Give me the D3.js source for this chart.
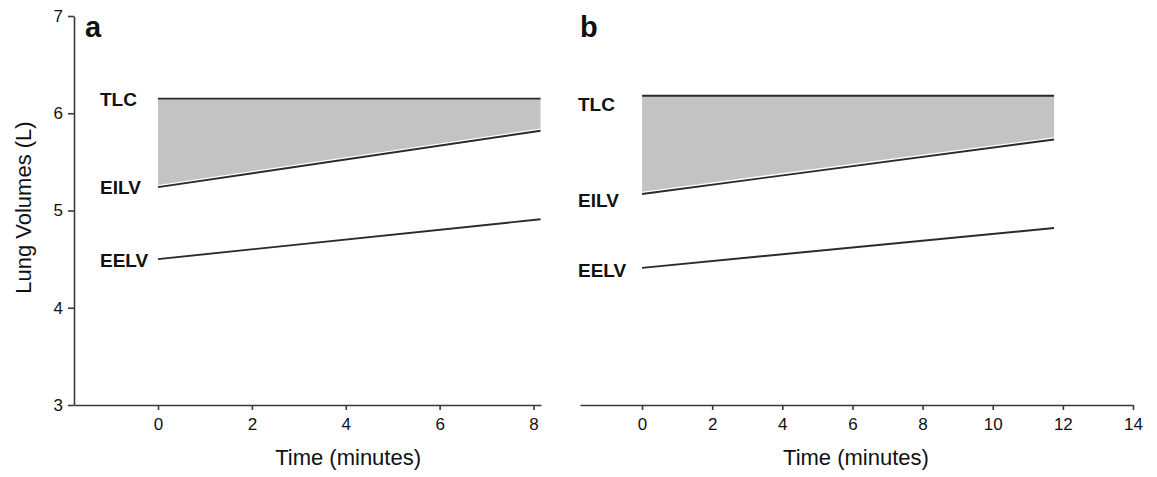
<!DOCTYPE html>
<html>
<head>
<meta charset="utf-8">
<script src="https://cdn.jsdelivr.net/npm/d3@7"></script>
<style>
	body { margin: 0; background: #fff; }
	svg { display: block; font-family: 'Liberation Sans', Arial, sans-serif; }
	.axis path, .axis line { stroke: #3a3a3a; stroke-width: 1.6px; }
</style>
</head>
<body>
<svg id="chart" width="1157" height="477"></svg>
<script>
// values (litres vs minutes)
const volumeTicks = [3, 4, 5, 6, 7];
const timeTicksA = [0, 2, 4, 6, 8];
const timeTicksB = [0, 2, 4, 6, 8, 10, 12, 14];

const timeA = [0, 8.15];
const tlcA = [6.15, 6.15];
const eilvA = [5.24, 5.82];
const eelvA = [4.5, 4.91];

const timeB = [0, 11.75];
const tlcB = [6.18, 6.18];
const eilvB = [5.17, 5.73];
const eelvB = [4.41, 4.82];

const lineNames = ['TLC', 'EILV', 'EELV'];

const TOP = 16;
const BASE = 405;
const FONT = "'Liberation Sans', Arial, sans-serif";

const $svg = d3.select('#chart');

const y = d3.scaleLinear().domain([3, 7]).range([BASE, TOP]);

const panels = [
	{
		letter: 'a', time: timeA, tlc: tlcA, eilv: eilvA, eelv: eelvA,
		ticks: timeTicksA, domain: [-1.79, 8.16], range: [74, 541],
		labelX: 100, labelDy: [0, 0, 1], titleAt: 4.05, letterX: 85, yAxis: true
	},
	{
		letter: 'b', time: timeB, tlc: tlcB, eilv: eilvB, eelv: eelvB,
		ticks: timeTicksB, domain: [-1.77, 14], range: [580, 1133],
		labelX: 578, labelDy: [8, 6, 2], titleAt: 6.1, letterX: 580, yAxis: false
	}
];

function styleAxis($axis) {
	$axis.attr('font-size', 17).attr('font-family', FONT);
	$axis.selectAll('text').attr('fill', '#111').attr('font-size', 17);
}

function drawPanel(p) {
	const x = d3.scaleLinear().domain(p.domain).range(p.range);
	const $g = $svg.append('g').attr('class', `panel panel-${p.letter}`);

	const rows = p.time.map((t, i) => ({ t, tlc: p.tlc[i], eilv: p.eilv[i], eelv: p.eelv[i] }));

	// shaded inspiratory reserve
	const area = d3.area()
		.x(d => x(d.t))
		.y0(d => y(d.eilv))
		.y1(d => y(d.tlc));
	$g.append('path')
		.datum(rows)
		.attr('d', area)
		.attr('fill', '#c3c3c3');

	const line = key => d3.line().x(d => x(d.t)).y(d => y(d[key]));

	// thin white edge along EILV inside the fill
	$g.append('path')
		.datum(rows)
		.attr('d', line('eilv'))
		.attr('fill', 'none')
		.attr('stroke', '#fff')
		.attr('stroke-width', 4.5);

	['tlc', 'eilv', 'eelv'].forEach(key => {
		$g.append('path')
			.datum(rows)
			.attr('d', line(key))
			.attr('fill', 'none')
			.attr('stroke', '#2a2a2a')
			.attr('stroke-width', 1.9);
	});

	// line labels
	const starts = [p.tlc[0], p.eilv[0], p.eelv[0]];
	$g.selectAll('.line-label')
		.data(lineNames)
		.enter()
		.append('text')
		.attr('class', 'line-label')
		.attr('x', p.labelX)
		.attr('y', (d, i) => y(starts[i]) + p.labelDy[i])
		.attr('dy', '0.36em')
		.attr('font-size', 19)
		.attr('font-weight', 'bold')
		.attr('fill', '#111')
		.text(d => d);

	// x axis
	const xAxis = d3.axisBottom(x)
		.tickValues(p.ticks)
		.tickFormat(d3.format('d'))
		.tickSize(5)
		.tickPadding(8)
		.tickSizeOuter(0);
	$g.append('g')
		.attr('class', 'axis x-axis')
		.attr('transform', `translate(0,${BASE})`)
		.call(xAxis)
		.call(styleAxis);

	$g.append('text')
		.attr('x', x(p.titleAt))
		.attr('y', 465)
		.attr('text-anchor', 'middle')
		.attr('font-size', 22)
		.attr('fill', '#111')
		.text('Time (minutes)');

	$g.append('text')
		.attr('x', p.letterX)
		.attr('y', 37)
		.attr('font-size', 29)
		.attr('font-weight', 'bold')
		.attr('fill', '#111')
		.text(p.letter);

	if (p.yAxis) {
		const yAxis = d3.axisLeft(y)
			.tickValues(volumeTicks)
			.tickFormat(d3.format('d'))
			.tickSize(6)
			.tickPadding(5)
			.tickSizeOuter(0);
		$g.append('g')
			.attr('class', 'axis y-axis')
			.attr('transform', `translate(${p.range[0]},0)`)
			.call(yAxis)
			.call(styleAxis);

		$g.append('text')
			.attr('transform', `translate(31,${y(5.03)}) rotate(-90)`)
			.attr('text-anchor', 'middle')
			.attr('font-size', 22)
			.attr('fill', '#111')
			.text('Lung Volumes (L)');
	}
}

panels.forEach(drawPanel);
</script>
</body>
</html>
